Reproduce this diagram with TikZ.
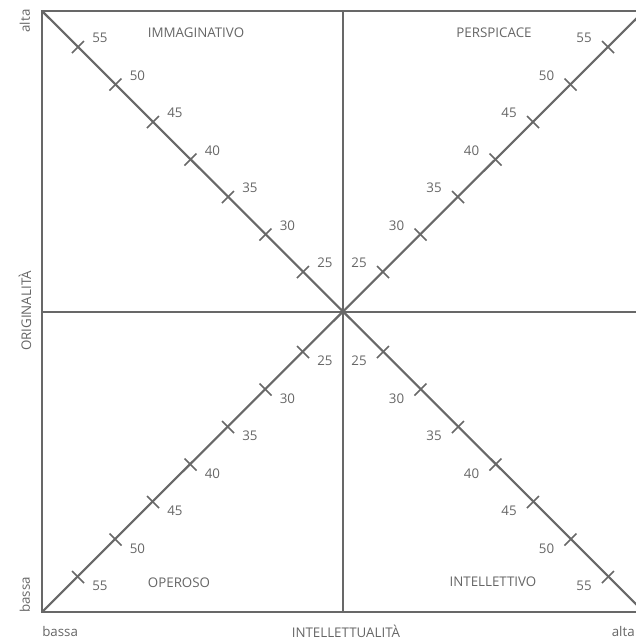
\documentclass[tikz,border=0pt]{standalone}
\usepackage{fontspec}
\setmainfont{Open Sans}
\definecolor{linegray}{HTML}{686868}
\definecolor{textgray}{HTML}{666666}
\begin{document}
\begin{tikzpicture}[x=0.75pt,y=-0.75pt,
  axisline/.style={draw=linegray, line width=1.6pt},
  tickmark/.style={draw=linegray, line width=1.2pt},
  lbl/.style={font=\fontsize{10}{12}\selectfont, text=textgray, inner sep=0pt},
  num/.style={lbl}]
\useasboundingbox (0,0) rectangle (636,640);
\begin{scope}
\clip (0,0) rectangle (636,640);
% frame corners and centre
\coordinate (A) at (42,11);
\coordinate (B) at (644,11);
\coordinate (C) at (644,612);
\coordinate (D) at (42,612);
\coordinate (O) at (343,312);
\coordinate (Ot) at (343,11);
\coordinate (Ob) at (343,612);
\coordinate (Ol) at (42,312);
\coordinate (Or) at (644,312);
\draw[axisline] (A) -- (B) -- (C) -- (D) -- cycle;
\draw[axisline] (Ot) -- (Ob);
\draw[axisline] (Ol) -- (Or);
\draw[axisline] (A) -- (C);
\draw[axisline] (B) -- (D);
% ticks
\foreach \v in {25,30,35,40,45,50,55}{
  \pgfmathsetmacro{\d}{40+(\v-25)*7.5}
  % upper left
  \coordinate (ul\v) at (343-\d,312-\d);
  \draw[tickmark] ([shift={(-6,6)}]ul\v) -- ([shift={(6,-6)}]ul\v);
  \node[num,anchor=west] (ulL\v) at ([shift={(14,-9)}]ul\v) {\v};
  % upper right
  \coordinate (ur\v) at (343+\d,312-\d);
  \draw[tickmark] ([shift={(-6,-6)}]ur\v) -- ([shift={(6,6)}]ur\v);
  \node[num,anchor=east] (urL\v) at ([shift={(-16,-9)}]ur\v) {\v};
  % lower left
  \coordinate (ll\v) at (343-\d,312+\d);
  \draw[tickmark] ([shift={(-6,-6)}]ll\v) -- ([shift={(6,6)}]ll\v);
  \node[num,anchor=west] (llL\v) at ([shift={(14,9)}]ll\v) {\v};
  % lower right
  \coordinate (lr\v) at (343+\d,312+\d);
  \draw[tickmark] ([shift={(-6,6)}]lr\v) -- ([shift={(6,-6)}]lr\v);
  \node[num,anchor=east] (lrL\v) at ([shift={(-16,9)}]lr\v) {\v};
}
% quadrant labels
\node[lbl] (imm) at (196,33) {IMMAGINATIVO};
\node[lbl] (per) at (494,33) {PERSPICACE};
\node[lbl] (ope) at (179,583) {OPEROSO};
\node[lbl] (int) at (493,582) {INTELLETTIVO};
% axis labels
\node[lbl,anchor=west] (bx) at (42,631) {bassa};
\node[lbl] (xl) at (346,631) {INTELLETTUALITÀ};
\node[lbl,anchor=east] (ax) at (635,631) {alta};
\node[lbl,rotate=90] (ay) at (25,21) {alta};
\node[lbl,rotate=90] (yl) at (25,311) {ORIGINALITÀ};
\node[lbl,rotate=90] (by) at (25,595) {bassa};
\end{scope}
\end{tikzpicture}
\end{document}
